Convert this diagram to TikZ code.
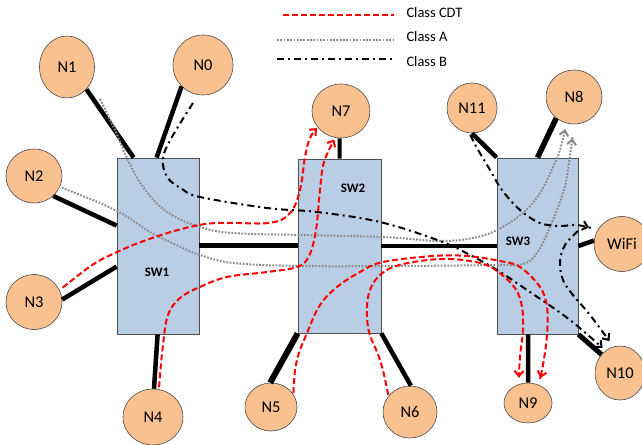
\documentclass[tikz,border=0pt]{standalone}
\usepackage{fontspec}
\setmainfont{Carlito}
\usetikzlibrary{shapes.geometric,arrows.meta}
\definecolor{peach}{RGB}{249,193,143}
\definecolor{swfill}{RGB}{185,205,229}
\definecolor{swline}{RGB}{80,80,80}
\definecolor{cdtred}{RGB}{255,0,0}
\definecolor{clsgray}{RGB}{140,140,140}
\begin{document}
\begin{tikzpicture}[x=1bp,y=-1bp,
  nd/.style={ellipse,draw=black!70,fill=peach,line width=0.6bp,inner sep=0pt,font=\fontsize{16.5}{18}\selectfont},
  swbox/.style={rectangle,draw=swline,fill=swfill,line width=0.8bp,inner sep=0pt},
  swlab/.style={font=\bfseries\fontsize{13}{15}\selectfont},
  lnk/.style={line width=4.5bp},
  tipc/.style={-{Straight Barb[length=5bp,width=9bp]}},
  cdt/.style={draw=cdtred,line width=2bp,dash pattern=on 6bp off 3bp},
  clsa/.style={draw=clsgray,line width=2bp,dash pattern=on 1.8bp off 1.5bp},
  clsb/.style={draw=black,line width=2bp,dash pattern=on 7bp off 4bp on 2bp off 4bp},
  leg/.style={anchor=base west,font=\fontsize{14.5}{16}\selectfont},
]
\fill[white] (0,0) rectangle (642,445);
\useasboundingbox (0,0) rectangle (642,445);

% switches
\node[swbox,minimum width=82bp,minimum height=176bp] (sw1) at (158,246) {};
\node[swbox,minimum width=83bp,minimum height=174bp] (sw2) at (339.5,246) {};
\node[swbox,minimum width=81bp,minimum height=176bp] (sw3) at (537.5,246) {};
\node[swlab] (l1) at (157,272) {SW1};
\node[swlab] (l2) at (353,188) {SW2};
\node[swlab] (l3) at (518,241) {SW3};

% hosts
\node[nd,minimum width=55bp,minimum height=62bp] (n1) at (67,67) {N1};
\node[nd,minimum width=60bp,minimum height=60bp] (n0) at (203,65) {N0};
\node[nd,minimum width=56bp,minimum height=54bp] (n2) at (34,176) {N2};
\node[nd,minimum width=56bp,minimum height=55bp] (n3) at (34,302) {N3};
\node[nd,minimum width=60bp,minimum height=56bp] (n4) at (153,417) {N4};
\node[nd,minimum width=58bp,minimum height=54bp] (n7) at (341,111) {N7};
\node[nd,minimum width=52bp,minimum height=48bp] (n5) at (271,407) {N5};
\node[nd,minimum width=54bp,minimum height=52bp] (n6) at (410,412) {N6};
\node[nd,minimum width=50bp,minimum height=50bp] (n11) at (472,108) {N11};
\node[nd,minimum width=56bp,minimum height=54bp] (n8) at (574,97) {N8};
\node[nd,minimum width=56bp,minimum height=55bp] (wifi) at (622,244) {WiFi};
\node[nd,minimum width=48bp,minimum height=40bp] (n9) at (528,403) {N9};
\node[nd,minimum width=50bp,minimum height=54bp] (n10) at (620,373) {N10};

% free starts of flows
\coordinate (a1s) at (100,99);
\coordinate (b1s) at (193,103);
\coordinate (b3s) at (578,231);

% physical links
\draw[lnk] (n1.-49) -- ([xshift=17bp]sw1.north west);
\draw[lnk] (n0.-135) -- ([xshift=40bp]sw1.north west);
\draw[lnk] (n2.-46) -- ([yshift=-68bp]sw1.north west);
\draw[lnk] (n3.5) -- ([yshift=-109bp]sw1.north west);
\draw[lnk] (n4.88) -- ([xshift=41bp]sw1.south west);
\draw[lnk,line width=5bp] (sw1.east) -- (sw2.west);
\draw[lnk,line width=4bp] (n7.-93) -- (sw2.north);
\draw[lnk,line width=6bp] (n5.92) -- (sw2.south west);
\draw[lnk] (n6.88) -- (sw2.south east);
\draw[lnk] (sw2.east) -- (sw3.west);
\draw[lnk] (n11.-90) -- (sw3.north west);
\draw[lnk,line width=5.5bp] (n8.-130) -- (sw3.north);
\draw[lnk] (wifi.173) -- (sw3.east);
\draw[lnk] (n9.90) -- ([xshift=-9.5bp]sw3.south);
\draw[lnk,line width=5bp] (n10.135) -- (sw3.south east);

% Class A flows
\draw[clsa,tipc,shorten >=6bp] plot[smooth,tension=0.6] coordinates {(a1s) (115,130) (127,158) (143,187) (167,212) (200,227) (233,233) (300,235) (382,237) (440,241) (473,238) (497,230) (523,213) (540,193) (553,167) (560,150) (n8.-106)};
\draw[clsa,tipc,shorten <=2bp,shorten >=14bp] plot[smooth,tension=0.6] coordinates {(n2.-23) (117,211) (150,232) (183,248) (200,255) (233,263) (300,266) (400,266) (497,265) (523,264) (537,253) (550,227) (563,193) (568,170) (n8.-90)};

% Class B flows
\draw[clsb,tipc,shorten >=4bp] plot[smooth,tension=0.6] coordinates {(b1s) (172,137) (163,158) (167,177) (182,189) (200,197) (267,208) (317,212) (380,222) (440,241) (470,255) (497,270) (527,290) (570,320) (n10.123)};
\draw[clsb,tipc,shorten <=2bp,shorten >=9bp] plot[smooth,tension=0.6] coordinates {(n11.-96) (477,148) (490,170) (502,190) (520,210) (540,223) (560,226) (577,225) (wifi.150)};
\draw[clsb,tipc,shorten >=7bp] plot[smooth,tension=0.6] coordinates {(b3s) (565,245) (560,262) (563,280) (573,295) (590,315) (n10.104)};

% Class CDT flows
\draw[cdt,tipc,shorten <=4bp,shorten >=1bp] plot[smooth,tension=0.6] coordinates {(n3.25) (117,252) (199,225) (268,223) (290,213) (300,190) (305,157) (310,138) (n7.-145)};
\draw[cdt,tipc,shorten <=2bp,shorten >=2bp] plot[smooth,tension=0.6] coordinates {(n4.78) (163,345) (168,315) (180,298) (200,287) (227,277) (267,272) (297,267) (309,256) (316,230) (320,190) (324,162) (n7.-102)};
\draw[cdt,tipc,shorten <=1bp,shorten >=7bp] plot[smooth,tension=0.6] coordinates {(n5.30) (297,360) (307,333) (320,305) (337,287) (360,272) (383,262) (433,256) (467,256) (500,261) (520,267) (540,287) (547,307) (547,335) (543,365) (n9.60)};
\draw[cdt,tipc,shorten <=1bp,shorten >=7bp] plot[smooth,tension=0.6] coordinates {(n6.143) (380,360) (369,332) (367,307) (370,290) (378,277) (393,267) (420,261) (450,259) (480,263) (497,271) (515,288) (522,307) (523,330) (520,357) (n9.117)};

% legend
\coordinate (lc1) at (283,15); \coordinate (lc2) at (394,15);
\coordinate (la1) at (277,40); \coordinate (la2) at (394,40);
\coordinate (lb1) at (277,59); \coordinate (lb2) at (392,59);
\draw[cdt] (lc1) -- (lc2);
\draw[clsa] (la1) -- (la2);
\draw[clsb] (lb1) -- (lb2);
\node[leg] (t1) at (403,17.5) {Class CDT};
\node[leg] (t2) at (403,41.5) {Class A};
\node[leg] (t3) at (403,66.5) {Class B};
\end{tikzpicture}
\end{document}
